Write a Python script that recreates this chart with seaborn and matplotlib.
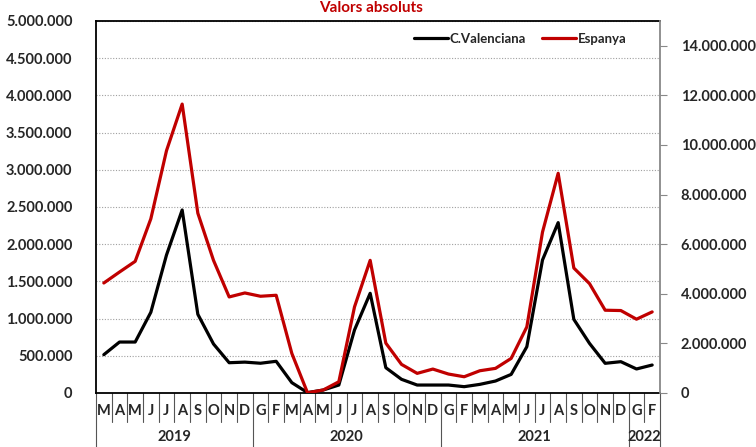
import matplotlib
matplotlib.use("Agg")
import matplotlib.pyplot as plt
import matplotlib.transforms as mtransforms
from matplotlib.ticker import FuncFormatter, MultipleLocator
import numpy as np
import pandas as pd
import seaborn as sns

# ---- data ----
months = ['M', 'A', 'M', 'J', 'J', 'A', 'S', 'O', 'N', 'D',
          'G', 'F', 'M', 'A', 'M', 'J', 'J', 'A', 'S', 'O', 'N', 'D',
          'G', 'F', 'M', 'A', 'M', 'J', 'J', 'A', 'S', 'O', 'N', 'D',
          'G', 'F']
years = ['2019', '2020', '2021', '2022']
year_counts = [10, 12, 12, 2]

cval = [515000, 685000, 685000, 1085000, 1855000, 2460000, 1058000, 659000, 407000, 415000,
        400000, 426000, 139000, 5000, 40000, 107000, 847000, 1340000, 340000, 184000, 107000, 107000,
        107000, 85000, 116000, 161000, 250000, 622000, 1788000, 2290000, 990000, 667000, 399000, 421000,
        323000, 376000]
espanya = [4436000, 4878000, 5308000, 7025000, 9772000, 11650000, 7251000, 5349000, 3873000, 4034000,
           3901000, 3941000, 1596000, 10000, 120000, 454000, 3471000, 5349000, 2011000, 1154000, 792000, 965000,
           764000, 655000, 897000, 993000, 1395000, 2666000, 6487000, 8859000, 5039000, 4411000, 3338000, 3325000,
           2976000, 3270000]

series_names = ['C.Valenciana', 'Espanya']
title = 'Valors absoluts'

# ---- style ----
sns.set_style("white")
plt.rcParams['font.family'] = ['Lato', 'DejaVu Sans']
plt.rcParams['font.weight'] = 'bold'

RED = '#C00000'
BLACK = '#000000'

n = len(months)
df = pd.DataFrame({'idx': np.arange(n), 'cval': cval, 'esp': espanya})

fig = plt.figure(figsize=(7.56, 4.47), dpi=100)
ax = fig.add_axes([96 / 756, 1 - 393 / 447, 564 / 756, 372 / 447])
ax2 = ax.twinx()

sns.lineplot(data=df, x='idx', y='cval', ax=ax, color=BLACK, linewidth=2.3,
             label=series_names[0], legend=False)
sns.lineplot(data=df, x='idx', y='esp', ax=ax2, color=RED, linewidth=2.3,
             label=series_names[1], legend=False)

ax.set_xlim(-0.5, n - 0.5)
ax.set_ylim(0, 5000000)
ax2.set_ylim(0, 15000000)

fmt = FuncFormatter(lambda v, p: f"{v:,.0f}".replace(',', '.'))
ax.yaxis.set_major_locator(MultipleLocator(500000))
ax.yaxis.set_major_formatter(fmt)
ax2.set_yticks(np.arange(0, 14000001, 2000000))
ax2.yaxis.set_major_formatter(fmt)

ax.tick_params(axis='y', length=0, pad=17, labelsize=10.5)
ax2.tick_params(axis='y', length=5, width=0.8, color='#888888', pad=10, labelsize=10.5)
for lbl in ax.get_yticklabels() + ax2.get_yticklabels():
    lbl.set_fontweight('bold')

ax.set_xlabel('')
ax.set_ylabel('')
ax2.set_ylabel('')
ax.set_xticks([])
ax2.set_xticks([])

ax.grid(axis='y', color='#a0a0a0', linestyle=(0, (1, 1.5)), linewidth=0.8)
ax.set_axisbelow(True)

for sp in ['left', 'bottom', 'top']:
    ax.spines[sp].set_color('black')
    ax.spines[sp].set_linewidth(1.3)
ax.spines['right'].set_visible(False)
for sp in ['left', 'bottom', 'top']:
    ax2.spines[sp].set_visible(False)
ax2.spines['right'].set_color('#888888')
ax2.spines['right'].set_linewidth(1.3)

# ---- category axis (months + years) ----
trans = mtransforms.blended_transform_factory(ax.transData, ax.transAxes)
month_h = 29 / 372
year_h = 54 / 372
year_bounds = np.concatenate([[0], np.cumsum(year_counts)])
for k in range(n + 1):
    h = year_h if k in year_bounds else month_h
    ax.plot([k - 0.5, k - 0.5], [0, -h], transform=trans, color='#555555',
            linewidth=0.8, clip_on=False)
for i, m in enumerate(months):
    ax.text(i, -18 / 372, m, transform=trans, ha='center', va='center',
            fontsize=10.5, fontweight='bold')
for y, a, b in zip(years, year_bounds[:-1], year_bounds[1:]):
    ax.text((a + b - 1) / 2, -44 / 372, y, transform=trans, ha='center', va='center',
            fontsize=10.5, fontweight='bold')

# ---- legend ----
h1, l1 = ax.get_legend_handles_labels()
h2, l2 = ax2.get_legend_handles_labels()
leg = ax2.legend(h1 + h2, l1 + l2, loc='upper right', bbox_to_anchor=(1 - 22 / 564, 1.0),
                 ncol=2, frameon=False, fontsize=9.5, handlelength=2.6, columnspacing=1.2,
                 handletextpad=0.1)
for t in leg.get_texts():
    t.set_fontweight('bold')

fig.text(371 / 756, 1 - 1 / 447, title, color=RED, ha='center', va='top',
         fontsize=11, fontweight='bold')

fig.savefig('out.png', dpi=100)
